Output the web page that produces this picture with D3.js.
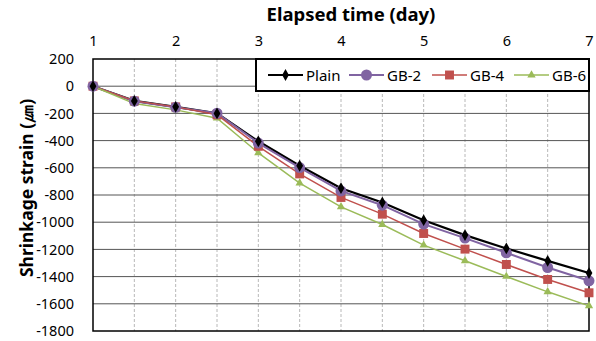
<!DOCTYPE html>
<html>
<head>
<meta charset="utf-8">
<script src="https://cdn.jsdelivr.net/npm/d3@7"></script>
<style>
  body { margin: 0; background: #fff; }
  text { font-family: "Noto Sans", "Open Sans", sans-serif; }
</style>
</head>
<body>
<div id="chart"></div>
<script>
// data
const days = [1, 1.5, 2, 2.5, 3, 3.5, 4, 4.5, 5, 5.5, 6, 6.5, 7];
const plain = [0, -108, -152, -200, -405, -585, -750, -855, -985, -1095, -1193, -1284, -1374];
const gb2   = [0, -110, -155, -198, -418, -598, -770, -875, -1014, -1117, -1225, -1333, -1431];
const gb4   = [0, -108, -152, -210, -442, -645, -818, -941, -1083, -1198, -1311, -1421, -1519];
const gb6   = [0, -128, -174, -235, -490, -713, -887, -1017, -1169, -1284, -1399, -1512, -1615];
const xTicks = [1, 2, 3, 4, 5, 6, 7];
const yTicks = [200, 0, -200, -400, -600, -800, -1000, -1200, -1400, -1600, -1800];

const series = [
  { name: "Plain", values: plain, color: "#000000", shape: d3.symbolDiamond, size: 40, width: 2.2 },
  { name: "GB-2", values: gb2, color: "#8064A2", shape: d3.symbolCircle, size: 95, width: 2 },
  { name: "GB-4", values: gb4, color: "#C0504D", shape: d3.symbolSquare, size: 80, width: 1.5 },
  { name: "GB-6", values: gb6, color: "#9BBB59", shape: d3.symbolTriangle, size: 30, width: 1.5 }
];

const W = 596, H = 341;
const plotLeft = 93, plotRight = 589, plotTop = 59, plotBottom = 331;

const svg = d3.select("#chart").append("svg")
  .attr("width", W)
  .attr("height", H);

const x = d3.scaleLinear().domain([1, 7]).range([plotLeft, plotRight]);
const y = d3.scaleLinear().domain([-1800, 200]).range([plotBottom, plotTop]);

// vertical dashed grid every half day
svg.append("g")
  .selectAll("line")
  .data(d3.range(1.5, 7, 0.5))
  .enter().append("line")
  .attr("x1", d => x(d)).attr("x2", d => x(d))
  .attr("y1", plotTop).attr("y2", plotBottom)
  .attr("stroke", "#b8b8b8")
  .attr("stroke-width", 1)
  .attr("stroke-dasharray", "3,2");

// horizontal grid
svg.append("g")
  .selectAll("line")
  .data(yTicks.slice(1, -1))
  .enter().append("line")
  .attr("x1", plotLeft).attr("x2", plotRight)
  .attr("y1", d => y(d)).attr("y2", d => y(d))
  .attr("stroke", "#555")
  .attr("stroke-width", 1);

// plot border
svg.append("rect")
  .attr("x", plotLeft).attr("y", plotTop)
  .attr("width", plotRight - plotLeft).attr("height", plotBottom - plotTop)
  .attr("fill", "none")
  .attr("stroke", "#000")
  .attr("stroke-width", 1.5);

// axes (plain hyphen minus like the original)
const xAxis = svg.append("g")
  .attr("transform", `translate(0,${plotTop})`)
  .call(d3.axisTop(x).tickValues(xTicks).tickSize(0).tickPadding(13).tickFormat(d => String(d)));
xAxis.select(".domain").remove();
xAxis.selectAll("text").attr("font-size", 14.5).attr("fill", "#000");

const yAxis = svg.append("g")
  .attr("transform", `translate(${plotLeft},0)`)
  .call(d3.axisLeft(y).tickValues(yTicks).tickSize(0).tickPadding(19).tickFormat(d => String(d)));
yAxis.select(".domain").remove();
yAxis.selectAll("text").attr("font-size", 14.5).attr("fill", "#000");

// titles
svg.append("text")
  .attr("x", 351).attr("y", 21)
  .attr("text-anchor", "middle")
  .attr("font-size", 18.5)
  .attr("font-weight", "bold")
  .text("Elapsed time (day)");

svg.append("text")
  .attr("transform", "translate(33,188) rotate(-90)")
  .attr("text-anchor", "middle")
  .attr("font-size", 17.5)
  .attr("font-weight", "bold")
  .text("Shrinkage strain (㎛)");

// lines and markers
const line = d3.line()
  .x((d, i) => x(days[i]))
  .y(d => y(d));

series.forEach(s => {
  svg.append("path")
    .datum(s.values)
    .attr("fill", "none")
    .attr("stroke", s.color)
    .attr("stroke-width", s.width)
    .attr("d", line);
});

// markers drawn in reverse so Plain sits on top like the original stacking
series.slice().reverse().forEach(s => {
  svg.append("g")
    .selectAll("path")
    .data(s.values)
    .enter().append("path")
    .attr("transform", (d, i) => `translate(${x(days[i])},${y(d)})`)
    .attr("d", d3.symbol().type(s.shape).size(s.size))
    .attr("fill", s.color);
});

// legend
const legend = svg.append("g");
legend.append("rect")
  .attr("x", 256).attr("y", 59)
  .attr("width", 333).attr("height", 32)
  .attr("fill", "#fff")
  .attr("stroke", "#000")
  .attr("stroke-width", 2);

const legendX = [268, 349, 432, 514];
series.forEach((s, i) => {
  const lx = legendX[i];
  legend.append("line")
    .attr("x1", lx).attr("x2", lx + 35)
    .attr("y1", 75).attr("y2", 75)
    .attr("stroke", s.color)
    .attr("stroke-width", s.width);
  legend.append("path")
    .attr("transform", `translate(${lx + 17.5},75)`)
    .attr("d", d3.symbol().type(s.shape).size(s.size))
    .attr("fill", s.color);
  legend.append("text")
    .attr("x", lx + 38).attr("y", 80.5)
    .attr("font-size", 15)
    .text(s.name);
});
</script>
</body>
</html>
